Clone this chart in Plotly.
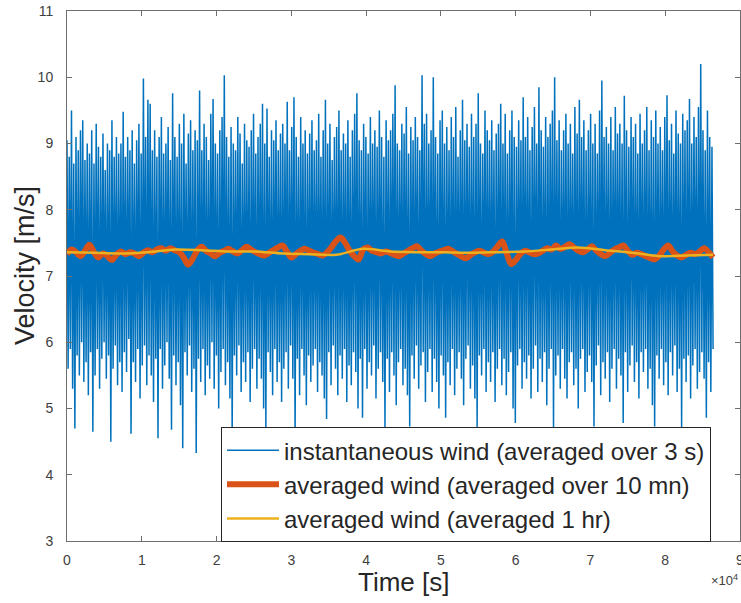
import numpy as np
import plotly.graph_objects as go

# ---------------- data ----------------
# instantaneous wind (3 s samples) summarised as alternating local maxima / minima
inst_high = [
    9.05, 8.8, 9.50, 8.7, 9.1, 8.9, 9.2, 9.35, 8.75, 9.0, 8.85, 9.2,
    8.7, 9.3, 8.95, 8.8, 9.15, 8.6, 9.0, 8.9, 9.35, 8.8, 9.1, 8.85,
    9.0, 9.48, 8.8, 9.1, 8.9, 9.2, 8.7, 9.05, 9.3, 8.85, 9.98, 9.1,
    9.66, 9.6, 8.9, 9.2, 8.8, 9.1, 9.4, 8.85, 9.0, 9.25, 8.75, 9.76,
    9.1, 8.8, 9.3, 9.0, 9.45, 8.7, 9.15, 9.35, 8.9, 9.2, 9.05, 9.8,
    8.9, 9.3, 9.1, 8.75, 9.45, 9.67, 9.0, 8.85, 9.2, 9.4, 10.03, 9.1,
    8.8, 9.25, 9.0, 8.9, 9.4, 9.15, 8.7, 9.3, 9.05, 8.95, 9.2, 9.45,
    8.85, 9.1, 9.3, 9.6, 9.0, 9.53, 8.8, 9.2, 9.05, 9.35, 8.9, 9.15,
    9.3, 9.0, 9.63, 8.9, 9.25, 9.7, 9.1, 8.8, 9.4, 9.0, 9.2, 8.85,
    9.15, 9.35, 8.9, 9.05, 9.45, 8.8, 9.2, 9.66, 9.0, 9.3, 8.75, 9.1,
    9.25, 9.5, 8.9, 9.15, 9.0, 9.35, 8.8, 9.2, 9.45, 9.76, 9.05, 8.9,
    9.3, 9.1, 8.85, 9.4, 9.0, 9.2, 8.95, 9.5, 9.1, 8.8, 9.35, 9.05,
    9.2, 9.45, 9.88, 9.0, 8.9, 9.3, 9.15, 9.55, 8.85, 9.25, 9.05, 9.4,
    9.1, 8.9, 10.03, 9.3, 9.45, 9.0, 9.2, 10.0, 9.1, 8.85, 9.35, 9.5,
    9.0, 9.25, 8.9, 9.4, 9.1, 9.55, 8.8, 9.2, 9.66, 9.05, 9.3, 8.95,
    9.45, 9.1, 9.3, 9.76, 9.0, 8.85, 9.5, 9.2, 9.05, 9.35, 8.9, 9.15,
    9.3, 9.6, 9.0, 9.45, 8.85, 9.2, 9.5, 9.1, 8.95, 9.35, 9.05, 9.7,
    9.1, 9.4, 8.9, 9.25, 9.55, 9.0, 9.85, 9.2, 8.95, 9.4, 9.1, 9.3,
    9.5, 10.0, 9.05, 9.35, 8.9, 9.2, 9.45, 9.0, 9.3, 8.85, 9.55, 9.15,
    9.66, 9.1, 9.35, 8.9, 9.2, 9.45, 9.0, 9.3, 8.85, 9.5, 9.95, 9.1,
    9.25, 9.0, 9.4, 8.9, 9.55, 9.15, 9.3, 9.0, 9.72, 9.2, 8.95, 9.4,
    9.1, 9.3, 8.85, 9.45, 9.0, 9.2, 9.55, 8.9, 9.35, 9.1, 9.5, 9.0,
    9.25, 8.9, 9.4, 9.73, 9.05, 9.3, 8.85, 9.5, 9.15, 9.0, 9.45, 9.2,
    9.35, 9.67, 9.0, 9.4, 9.1, 9.55, 10.2, 9.2, 8.9, 9.5, 9.1, 8.95,
]
inst_low = [
    5.6, 5.9, 5.3, 4.7, 5.8, 5.5, 6.0, 5.4, 5.7, 5.2, 5.85, 4.65,
    5.5, 5.9, 5.3, 5.75, 6.0, 5.45, 5.8, 4.5, 5.6, 5.95, 5.35, 5.7,
    5.25, 5.85, 5.55, 6.05, 4.62, 5.7, 5.4, 5.9, 5.15, 5.65, 5.95, 5.35,
    5.8, 5.5, 5.1, 5.75, 4.55, 5.9, 5.3, 5.65, 6.0, 5.45, 4.68, 5.8,
    5.35, 5.7, 5.05, 4.4, 5.85, 5.5, 5.95, 5.25, 5.6, 4.33, 5.75, 5.4,
    5.9, 5.2, 5.65, 5.45, 6.0, 5.3, 5.8, 5.0, 5.55, 5.9, 5.35, 5.7,
    5.15, 4.56, 5.8, 5.5, 5.95, 5.25, 5.7, 5.4, 5.85, 5.1, 5.6, 5.9,
    5.3, 5.75, 5.45, 5.0, 4.68, 5.85, 5.55, 5.2, 5.9, 5.4, 5.7, 5.1,
    5.6, 5.85, 5.3, 5.95, 5.45, 4.55, 5.75, 5.2, 5.9, 5.5, 5.05, 5.8,
    5.4, 5.65, 5.9, 5.25, 5.7, 5.5, 5.15, 4.84, 5.85, 5.35, 5.95, 5.6,
    5.2, 5.8, 5.45, 5.9, 5.1, 5.65, 5.35, 5.85, 5.55, 5.0, 5.75, 4.86,
    5.9, 5.3, 5.7, 5.5, 5.95, 5.15, 5.6, 5.85, 5.4, 4.68, 5.75, 5.25,
    5.85, 5.5, 5.05, 5.7, 5.9, 5.35, 5.6, 5.2, 4.73, 5.8, 5.45, 5.95,
    5.3, 5.65, 5.85, 5.1, 5.55, 5.9, 5.25, 5.75, 5.4, 5.0, 5.8, 5.5,
    4.86, 5.7, 5.35, 5.9, 5.2, 5.6, 5.85, 5.45, 5.05, 5.75, 5.95, 5.3,
    5.65, 5.15, 4.7, 5.8, 5.5, 5.9, 5.25, 5.7, 5.4, 5.85, 5.1, 5.6,
    5.9, 5.35, 5.75, 5.2, 5.55, 5.85, 5.0, 4.78, 5.65, 5.9, 5.3, 5.7,
    5.45, 5.8, 5.15, 5.6, 5.95, 5.25, 5.75, 5.4, 5.85, 5.05, 5.6, 5.9,
    4.7, 5.5, 5.8, 5.3, 5.9, 5.45, 5.15, 5.7, 5.85, 5.35, 5.6, 5.0,
    5.75, 5.9, 5.25, 5.55, 5.8, 5.4, 4.73, 5.65, 5.95, 5.2, 5.7, 5.45,
    5.85, 5.1, 5.6, 5.9, 5.3, 5.75, 5.5, 4.78, 5.85, 5.25, 5.65, 5.95,
    5.4, 5.7, 5.15, 5.85, 5.55, 5.9, 5.3, 5.6, 5.05, 4.73, 5.8, 5.45,
    5.9, 5.35, 5.7, 5.2, 5.85, 5.5, 5.95, 5.25, 5.6, 4.72, 5.75, 5.4,
    5.8, 5.15, 5.65, 5.9, 5.3, 5.55, 5.85, 5.45, 4.86, 5.7, 5.25, 5.9,
]
# 10-minute averages
avg10 = [
    7.33, 7.40, 7.36, 7.30, 7.38, 7.47, 7.36, 7.28, 7.34, 7.30, 7.24, 7.32,
    7.37, 7.33, 7.36, 7.34, 7.30, 7.35, 7.39, 7.36, 7.40, 7.42, 7.38, 7.42,
    7.39, 7.36, 7.28, 7.17, 7.26, 7.38, 7.44, 7.38, 7.34, 7.30, 7.35, 7.38,
    7.41, 7.37, 7.34, 7.39, 7.44, 7.40, 7.36, 7.33, 7.31, 7.35, 7.39, 7.43,
    7.46, 7.37, 7.28, 7.33, 7.38, 7.41, 7.38, 7.35, 7.33, 7.31, 7.36, 7.44,
    7.53, 7.58, 7.50, 7.38, 7.30, 7.25, 7.40, 7.43, 7.38, 7.36, 7.34, 7.37,
    7.35, 7.32, 7.30, 7.34, 7.38, 7.42, 7.45, 7.38, 7.33, 7.30, 7.34, 7.37,
    7.39, 7.41, 7.37, 7.33, 7.29, 7.27, 7.32, 7.36, 7.38, 7.35, 7.33, 7.37,
    7.45, 7.52, 7.34, 7.18, 7.24, 7.33, 7.38, 7.36, 7.33, 7.34, 7.38, 7.42,
    7.40, 7.46, 7.41, 7.44, 7.48, 7.43, 7.38, 7.36, 7.40, 7.45, 7.38, 7.33,
    7.30, 7.35, 7.40, 7.43, 7.46, 7.38, 7.32, 7.35, 7.33, 7.30, 7.27, 7.25,
    7.31, 7.40, 7.46, 7.37, 7.31, 7.28, 7.32, 7.35, 7.33, 7.37, 7.42, 7.36,
    7.28,
]
# 1-hour averages
avg1h = [
    7.36, 7.35, 7.34, 7.36, 7.40, 7.39, 7.37, 7.37, 7.34, 7.33, 7.32, 7.41,
    7.37, 7.36, 7.36, 7.35, 7.36, 7.37, 7.40, 7.43, 7.39, 7.35, 7.30, 7.31,
    7.32,
]
x_tick_vals = [0, 1, 2, 3, 4, 5, 6, 7, 8, 9]
y_tick_vals = [3, 4, 5, 6, 7, 8, 9, 10, 11]
labels = [
    "instantaneous wind (averaged over 3 s)",
    "averaged wind (averaged over 10 mn)",
    "averaged wind (averaged 1 hr)",
]
duration = 86400  # seconds

# ---------------- build series ----------------
inst_vals = np.empty(2 * len(inst_high))
inst_vals[0::2] = inst_high
inst_vals[1::2] = inst_low
t_inst = np.linspace(0, duration, len(inst_vals))
t_10 = np.linspace(0, duration, len(avg10))
t_1h = np.linspace(0, duration, len(avg1h))

FONT = "Liberation Sans, Arial, Helvetica, sans-serif"

fig = go.Figure()
fig.add_trace(go.Scatter(x=t_inst, y=inst_vals, mode="lines", name=labels[0],
                         line=dict(color="#0072BD", width=1.5, simplify=False)))
fig.add_trace(go.Scatter(x=t_10, y=avg10, mode="lines", name=labels[1],
                         line=dict(color="#D95319", width=6, shape="spline",
                                   smoothing=1.0, simplify=False)))
fig.add_trace(go.Scatter(x=t_1h, y=avg1h, mode="lines", name=labels[2],
                         line=dict(color="#EDB120", width=2.5, shape="spline",
                                   smoothing=0.8, simplify=False)))

axis_common = dict(
    showline=True, linecolor="#6e6e6e", linewidth=1, mirror="ticks",
    ticks="inside", ticklen=5, tickcolor="#6e6e6e", tickwidth=1,
    showgrid=False, zeroline=False, automargin=False,
    ticklabeloverflow="allow",
    tickfont=dict(family=FONT, size=14, color="#404040"),
)

fig.update_layout(
    width=741, height=603,
    margin=dict(l=67, r=1, t=11, b=62),
    paper_bgcolor="white", plot_bgcolor="white",
    font=dict(family=FONT, color="#262626"),
    xaxis=dict(
        range=[0, 90000],
        tickvals=[v * 10000 for v in x_tick_vals],
        ticktext=[str(v) for v in x_tick_vals],
        ticklabelstandoff=6,
        **axis_common,
    ),
    yaxis=dict(
        range=[3, 11],
        tickvals=y_tick_vals,
        ticktext=[str(v) for v in y_tick_vals],
        ticklabelstandoff=10,
        **axis_common,
    ),
    legend=dict(
        x=0.2288, y=0.215, xanchor="left", yanchor="top",
        bgcolor="white", bordercolor="#262626", borderwidth=1,
        font=dict(family=FONT, size=24, color="#262626"),
        itemwidth=52, tracegroupgap=0,
    ),
    showlegend=True,
)

fig.add_annotation(
    xref="paper", yref="paper", x=0.5, y=-0.0774, xanchor="center", yanchor="middle",
    text="Time [s]", showarrow=False,
    font=dict(family=FONT, size=26, color="#262626"),
)
fig.add_annotation(
    xref="paper", yref="paper", x=-0.0624, y=0.519, xanchor="center", yanchor="middle",
    text="Velocity [m/s]", textangle=-90, showarrow=False,
    font=dict(family=FONT, size=27, color="#262626"),
)
fig.add_annotation(
    xref="paper", yref="paper", x=1.0, y=-0.0736, xanchor="right", yanchor="middle",
    text="×10<sup>4</sup>", showarrow=False,
    font=dict(family=FONT, size=13, color="#404040"),
)

# remove the browser's default 8 px body margin so the figure fills the window exactly
fig.write_html("out.html",
               config={"displayModeBar": False},
               post_script="document.body.style.margin='0';document.body.style.overflow='hidden';")
